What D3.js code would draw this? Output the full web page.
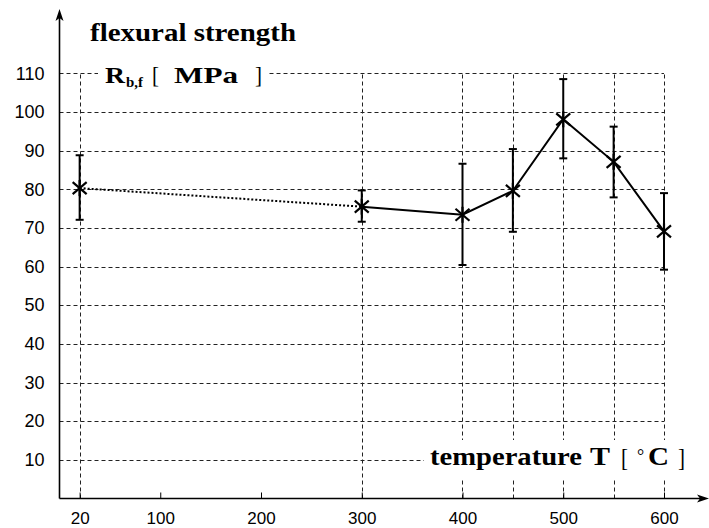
<!DOCTYPE html>
<html><head><meta charset="utf-8">
<script src="https://cdnjs.cloudflare.com/ajax/libs/d3/7.8.5/d3.min.js"></script>
<style>body{margin:0;background:#fff}svg{display:block}</style>
</head><body>
<svg id="c" width="709" height="528"></svg>
<script>
// data
const temperatures = [20, 300, 400, 450, 500, 550, 600];
const strengthMean = [80.3, 75.5, 73.4, 79.6, 98.1, 87.1, 69.1];
const strengthLow  = [72.1, 71.6, 60.4, 69.0, 88.0, 77.9, 59.2];
const strengthHigh = [88.8, 79.7, 86.6, 90.4, 108.5, 96.2, 79.0];
const xTickLabels = [20, 100, 200, 300, 400, 500, 600];
const xGridValues = [20, 300, 400, 450, 500, 550, 600];
const yTickValues = [10, 20, 30, 40, 50, 60, 70, 80, 90, 100, 110];

const svg = d3.select('#c');
const x = d3.scaleLinear().domain([0, 600]).range([59.5, 664]);
const y = d3.scaleLinear().domain([0, 110]).range([498.5, 73.3]);

const gridColor = '#222';
const grid = svg.append('g').attr('stroke', gridColor).attr('stroke-width', 1)
  .attr('stroke-dasharray', '4,3').attr('fill', 'none');
grid.selectAll('line.h').data(yTickValues).join('line')
  .attr('x1', x(0)).attr('x2', x(600))
  .attr('y1', d => Math.round(y(d)) + 0.5).attr('y2', d => Math.round(y(d)) + 0.5);
grid.selectAll('line.v').data(xGridValues).join('line')
  .attr('x1', d => Math.round(x(d)) + 0.5).attr('x2', d => Math.round(x(d)) + 0.5)
  .attr('y1', y(0)).attr('y2', y(110));

// axes
const sans = 'Liberation Sans, Arial, sans-serif';
const xAxis = d3.axisBottom(x).tickValues(xTickLabels).tickSizeInner(-6).tickSizeOuter(0).tickPadding(13);
const gx = svg.append('g').attr('transform', `translate(0,${y(0)})`).call(xAxis);
gx.select('.domain').remove();
gx.selectAll('text').attr('font-family', sans).attr('font-size', 17).attr('fill', '#000');
gx.selectAll('line').attr('stroke', '#000').attr('stroke-width', 1);

const yAxis = d3.axisLeft(y).tickValues(yTickValues).tickSize(0).tickPadding(15);
const gy = svg.append('g').attr('transform', `translate(${x(0)},0)`).call(yAxis);
gy.select('.domain').remove();
gy.selectAll('text').attr('font-family', sans).attr('font-size', 18).attr('fill', '#000');

// axis lines with arrows
svg.append('line').attr('x1', x(0)).attr('x2', 703).attr('y1', y(0)).attr('y2', y(0))
  .attr('stroke', '#000').attr('stroke-width', 1.6);
svg.append('line').attr('x1', x(0)).attr('x2', x(0)).attr('y1', y(0)).attr('y2', 14)
  .attr('stroke', '#000').attr('stroke-width', 1.6);
svg.append('path').attr('d', `M709,${y(0)} L697,${y(0)-4} L700,${y(0)} L697,${y(0)+4} Z`).attr('fill', '#000');
svg.append('path').attr('d', `M${x(0)},9 L${x(0)-4},21 L${x(0)},18 L${x(0)+4},21 Z`).attr('fill', '#000');

// labels with white backgrounds
const serif = 'Liberation Serif, Times New Roman, serif';
const lab = (txt, x0, x1, yb, size, weight) => svg.append('text').attr('x', x0).attr('y', yb)
  .attr('font-family', serif).attr('font-weight', weight).attr('font-size', size)
  .attr('textLength', x1 - x0).attr('lengthAdjust', 'spacingAndGlyphs').text(txt);

lab('flexural strength', 90, 296, 41, 25, 'bold');

svg.append('rect').attr('x', 98).attr('y', 60).attr('width', 170).attr('height', 30).attr('fill', '#fff');
lab('R', 105, 125, 83, 23, 'bold');
lab('b,f', 126, 143, 87, 15, 'bold');
lab('[', 152, 159, 83, 24, 'normal');
lab('MPa', 174, 238, 83, 23, 'bold');
lab(']', 255, 262, 83, 24, 'normal');

svg.append('rect').attr('x', 424).attr('y', 440).attr('width', 268).attr('height', 38).attr('fill', '#fff');
lab('temperature', 430, 582, 465, 24.5, 'bold');
lab('T', 590, 610, 465, 24.5, 'bold');
lab('[', 621, 628, 466, 25, 'normal');
svg.append('text').attr('x', 637).attr('y', 462).attr('font-family', serif).attr('font-size', 18).text('°');
lab('C', 648, 669, 465, 24.5, 'bold');
lab(']', 678, 685, 466, 25, 'normal');

// data lines
const pts = temperatures.map((d, i) => [x(d), y(strengthMean[i])]);
const line = d3.line();
svg.append('path').attr('d', line(pts.slice(0, 2))).attr('fill', 'none').attr('stroke', '#000')
  .attr('stroke-width', 2).attr('stroke-dasharray', '2,2');
svg.append('path').attr('d', line(pts.slice(1))).attr('fill', 'none').attr('stroke', '#000')
  .attr('stroke-width', 2);

// error bars
const eb = svg.append('g').attr('stroke', '#000').attr('stroke-width', 2);
temperatures.forEach((d, i) => {
  const cx = x(d);
  eb.append('line').attr('x1', cx).attr('x2', cx).attr('y1', y(strengthLow[i])).attr('y2', y(strengthHigh[i]));
  eb.append('line').attr('x1', cx - 4).attr('x2', cx + 4).attr('y1', y(strengthLow[i])).attr('y2', y(strengthLow[i]));
  eb.append('line').attr('x1', cx - 4).attr('x2', cx + 4).attr('y1', y(strengthHigh[i])).attr('y2', y(strengthHigh[i]));
});

// asterisk markers
const mk = svg.append('g').attr('stroke', '#000').attr('stroke-width', 2.2);
pts.forEach(([cx, cy]) => {
  mk.append('line').attr('x1', cx - 7).attr('x2', cx + 7).attr('y1', cy - 6).attr('y2', cy + 6);
  mk.append('line').attr('x1', cx - 7).attr('x2', cx + 7).attr('y1', cy + 6).attr('y2', cy - 6);
  mk.append('line').attr('x1', cx).attr('x2', cx).attr('y1', cy - 8).attr('y2', cy + 8);
});
</script>
</body></html>
